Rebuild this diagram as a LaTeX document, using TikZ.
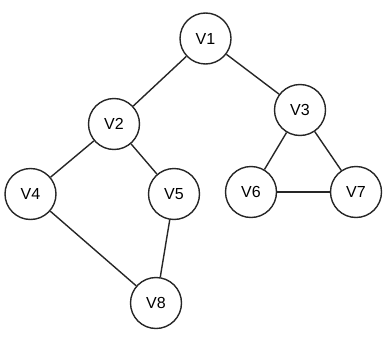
\documentclass[tikz,border=0pt]{standalone}
\usepackage{fontspec}
\setmainfont{Liberation Sans}
\begin{document}
\begin{tikzpicture}[x=1pt,y=-1pt,
  vtx/.style={circle,draw=black!85,line width=1.4pt,fill=white,minimum size=51pt,inner sep=0pt,font=\fontsize{16}{18}\selectfont},
  edge/.style={draw=black!85,line width=1.4pt}]
\useasboundingbox (0,0) rectangle (390,337);
\node[vtx] (v1) at (205.5,38.5) {V1};
\node[vtx] (v2) at (114,124) {V2};
\node[vtx] (v3) at (300,110) {V3};
\node[vtx] (v4) at (30.5,194) {V4};
\node[vtx] (v5) at (174,194) {V5};
\node[vtx] (v6) at (251,192) {V6};
\node[vtx] (v7) at (356,192) {V7};
\node[vtx] (v8) at (156,303) {V8};
\draw[edge] (v1) -- (v2);
\draw[edge] (v1) -- (v3);
\draw[edge] (v2) -- (v4);
\draw[edge] (v2) -- (v5);
\draw[edge] (v4) -- (v8);
\draw[edge] (v5) -- (v8);
\draw[edge] (v3) -- (v6);
\draw[edge] (v3) -- (v7);
\draw[edge] (v6) -- (v7);
\end{tikzpicture}
\end{document}
